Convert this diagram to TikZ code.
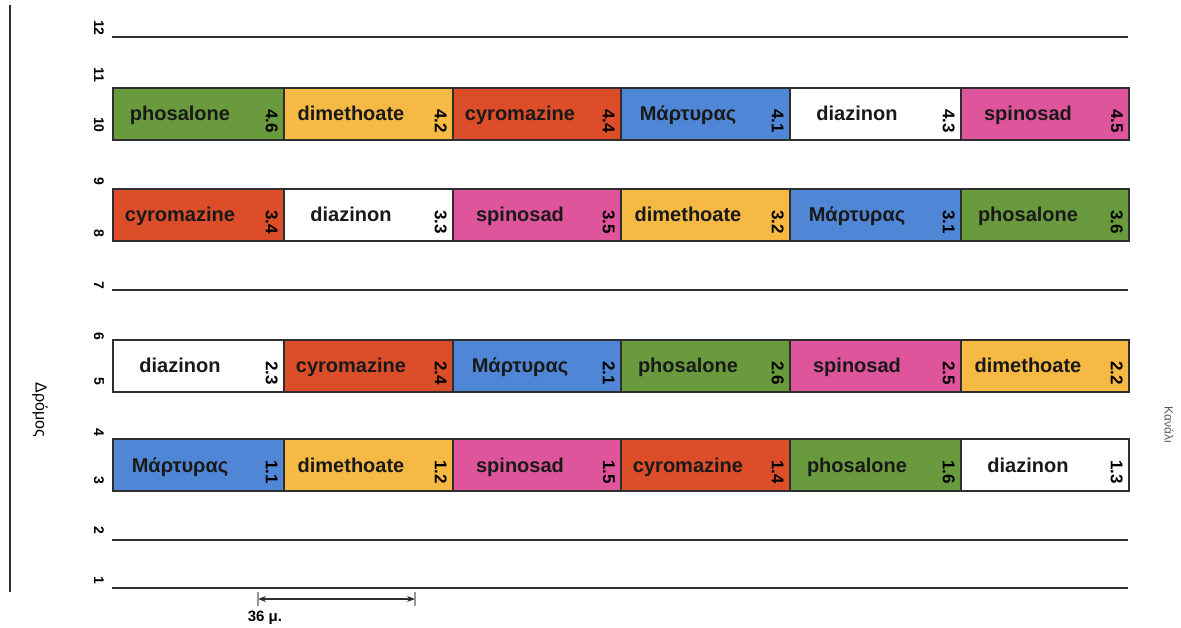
\documentclass[tikz,border=0pt]{standalone}
\usepackage{fontspec}
\setmainfont{Liberation Sans}
\usetikzlibrary{calc,arrows.meta}
\definecolor{cgreen}{HTML}{6A9A3E}
\definecolor{corange}{HTML}{F6B944}
\definecolor{cred}{HTML}{DC4E2A}
\definecolor{cblue}{HTML}{4F86D6}
\definecolor{cpink}{HTML}{DF559C}
\definecolor{cwhite}{HTML}{FFFFFF}
\definecolor{cline}{HTML}{2E2E2E}
\tikzset{
  plotbox/.style={draw=cline, line width=1.8pt, minimum height=52pt, inner sep=0pt, anchor=west},
  plotname/.style={font=\fontsize{20}{24}\selectfont\bfseries, text=black!90, inner sep=0pt, anchor=base},
  plotval/.style={font=\fontsize{17}{20}\selectfont\bfseries, rotate=-90, inner sep=0pt},
  axisnum/.style={font=\fontsize{14}{16}\selectfont\bfseries, rotate=-90, inner sep=0pt},
  rowline/.style={draw=cline, line width=1.4pt},
}
\newcommand{\plotrow}[3]{% #1 row id, #2 y centre, #3 list
  \foreach \lab/\col/\val [count=\i] in {#3}{
    \pgfmathsetmacro{\xa}{{112,283,452,620,789,960}[\i-1]}
    \pgfmathsetmacro{\xb}{{283,452,620,789,960,1128}[\i-1]}
    \pgfmathsetmacro{\boxw}{\xb-\xa}
    \node[plotbox, fill=\col, minimum width=\boxw pt] (#1b\i) at (\xa,#2) {};
    \node[plotname] (#1n\i) at ($(#1b\i.west)+(68,7)$) {\lab};
    \node[plotval] (#1v\i) at ($(#1b\i.east)+(-13,7)$) {\val};
  }
}
\begin{document}
\begin{tikzpicture}[x=1pt,y=-1pt]
\useasboundingbox (0,0) rectangle (1181,628);
% left frame line
\coordinate (fl1) at (10,5);
\coordinate (fl2) at (10,592);
\draw[draw=cline, line width=1.8pt] (fl1) -- (fl2);
% plot lines
\foreach \nm/\yy in {l12/37, l7/290, l2/540, l1/588}{
  \coordinate (\nm a) at (112,\yy);
  \coordinate (\nm b) at (1128,\yy);
  \draw[rowline] (\nm a) -- (\nm b);
}
% rows
\plotrow{r4}{114}{phosalone/cgreen/4.6, dimethoate/corange/4.2, cyromazine/cred/4.4, Μάρτυρας/cblue/4.1, diazinon/cwhite/4.3, spinosad/cpink/4.5}
\plotrow{r3}{215}{cyromazine/cred/3.4, diazinon/cwhite/3.3, spinosad/cpink/3.5, dimethoate/corange/3.2, Μάρτυρας/cblue/3.1, phosalone/cgreen/3.6}
\plotrow{r2}{366}{diazinon/cwhite/2.3, cyromazine/cred/2.4, Μάρτυρας/cblue/2.1, phosalone/cgreen/2.6, spinosad/cpink/2.5, dimethoate/corange/2.2}
\plotrow{r1}{465}{Μάρτυρας/cblue/1.1, dimethoate/corange/1.2, spinosad/cpink/1.5, cyromazine/cred/1.4, phosalone/cgreen/1.6, diazinon/cwhite/1.3}
% axis numbers
\foreach \n/\yy in {12/28, 11/75, 10/125, 9/181, 8/233, 7/285, 6/336, 5/381, 4/432, 3/480, 2/530, 1/580}{
  \node[axisnum] (ax\n) at (99,\yy) {\n};
}
% side labels
\node[font=\fontsize{16}{18}\selectfont, rotate=-90, inner sep=0pt] (road) at (40,410) {Δρόμος};
\node[font=\fontsize{12}{14}\selectfont, rotate=-90, text=black!65, inner sep=0pt] (canal) at (1169,425) {Κανάλι};
% scale bar
\coordinate (sbA) at (258,599);
\coordinate (sbB) at (415,599);
\draw[cline, line width=1.2pt, {Stealth[length=8pt,width=6pt]}-{Stealth[length=8pt,width=6pt]}] (sbA) -- (sbB);
\draw[cline!50, line width=1.2pt] ($(sbA)+(0,-7)$) -- ($(sbA)+(0,7)$);
\draw[cline!50, line width=1.2pt] ($(sbB)+(0,-7)$) -- ($(sbB)+(0,7)$);
\node[font=\fontsize{15}{17}\selectfont\bfseries, inner sep=0pt] (sblab) at (265,618) {36 μ.};
\end{tikzpicture}
\end{document}
